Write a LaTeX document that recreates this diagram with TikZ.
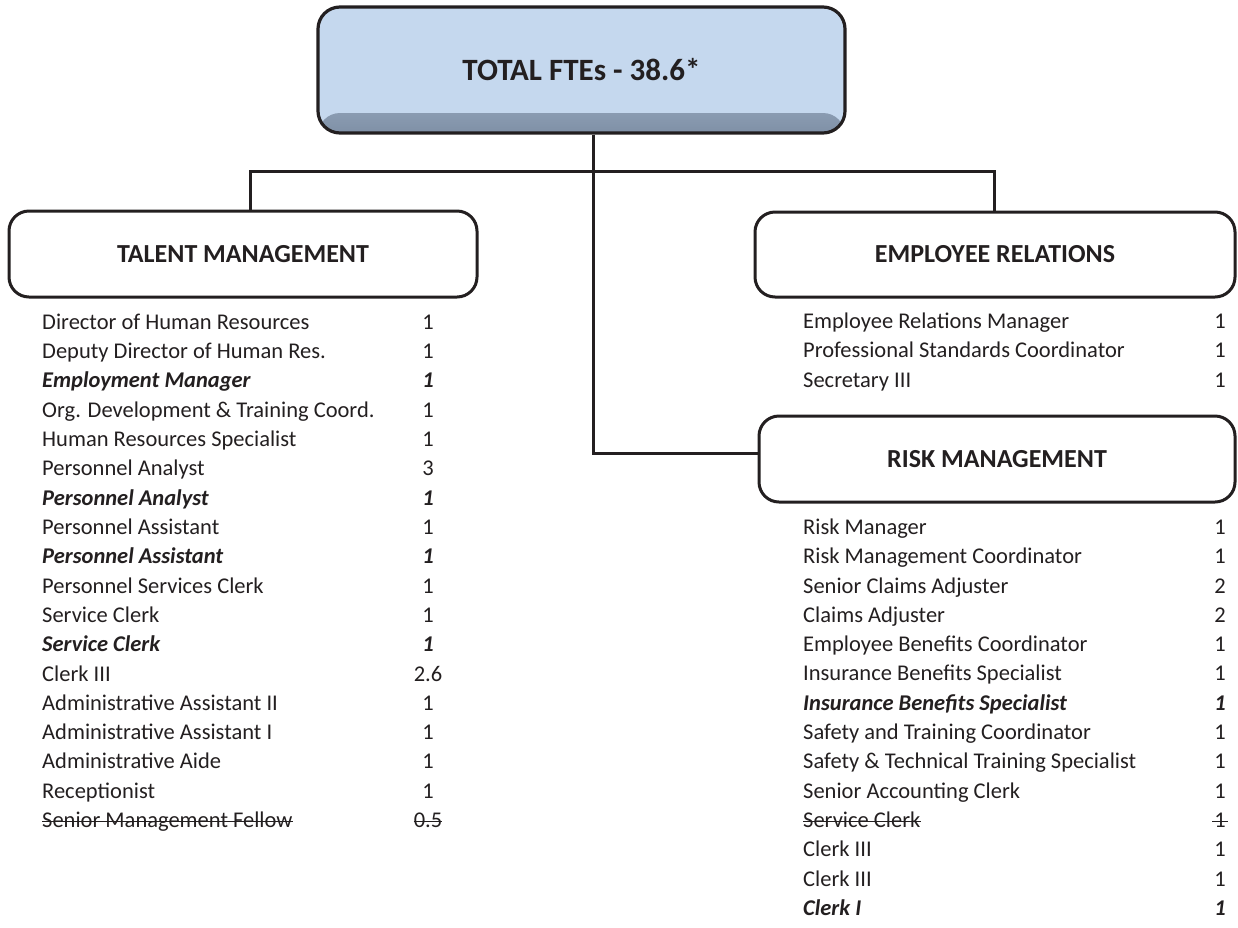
\documentclass[tikz,border=0pt]{standalone}
\usepackage{fontspec}
\setmainfont{Carlito}
\definecolor{ink}{HTML}{231F20}
\definecolor{topfill}{HTML}{C5D8EE}
\definecolor{topshade}{HTML}{7F90A6}
\tikzset{
  conn/.style={draw=ink, line width=3pt},
  box/.style={draw=ink, line width=3pt, rounded corners=20pt, fill=white, text=ink,
    font=\fontsize{26}{30}\selectfont\bfseries},
  titlebox/.style={draw=ink, line width=3.2pt, rounded corners=22pt, fill=topfill, text=ink,
    font=\fontsize{31}{35}\selectfont\bfseries,
    path picture={\shade[top color=topfill, bottom color=topshade]
      ([yshift=20pt]path picture bounding box.south west) rectangle (path picture bounding box.south east);}},
  item/.style={anchor=mid west, inner sep=0pt, text=ink, font=\fontsize{22.5}{27}\selectfont},
  num/.style={anchor=mid, inner sep=0pt, text=ink, font=\fontsize{22.5}{27}\selectfont},
  plain/.style={},
  bi/.style={font=\fontsize{22.5}{27}\selectfont\bfseries\itshape},
  strike/.style={draw=ink, line width=1.3pt}
}
\begin{document}
\begin{tikzpicture}[x=1pt,y=-1pt]
\useasboundingbox (0,0) rectangle (1238,927);
% boxes
\node[titlebox, minimum width=527pt, minimum height=126pt] (top) at (581.5,70) {TOTAL FTEs - 38.6*};
\node[box, minimum width=468pt, minimum height=86pt] (tm) at (243,254) {TALENT MANAGEMENT};
\node[box, minimum width=480pt, minimum height=85pt] (er) at (995,254.5) {EMPLOYEE RELATIONS};
\node[box, minimum width=476pt, minimum height=86pt] (rm) at (997,459) {RISK MANAGEMENT};
% connectors
\coordinate (j) at (593,171);
\coordinate (lc) at (250,171);
\coordinate (rc) at (994,171);
\coordinate (rmj) at (593,453);
\draw[conn] (top.south -| j) -- (j);
\draw[conn] (tm.north -| lc) -- (lc) -- (rc) -- (er.north -| rc);
\draw[conn] (j) -- (rmj) -- (rmj -| rm.west);
% talent list
\foreach \t/\n/\s [count=\i from 0] in {
  Director of Human Resources/1/plain,
  Deputy Director of Human Res./1/plain,
  Employment Manager/1/bi,
  Org. Development \& Training Coord./1/plain,
  Human Resources Specialist/1/plain,
  Personnel Analyst/3/plain,
  Personnel Analyst/1/bi,
  Personnel Assistant/1/plain,
  Personnel Assistant/1/bi,
  Personnel Services Clerk/1/plain,
  Service Clerk/1/plain,
  Service Clerk/1/bi,
  Clerk III/2.6/plain,
  Administrative Assistant II/1/plain,
  Administrative Assistant I/1/plain,
  Administrative Aide/1/plain,
  Receptionist/1/plain,
  Senior Management Fellow/0.5/plain}{
  \node[item,\s] (tl\i) at (42,{327+29.3*\i}) {\t};
  \node[num,\s] (tn\i) at (428,{327+29.3*\i}) {\n};
}
\draw[strike] ([yshift=6pt]tl17.base west) -- ([yshift=6pt]tl17.base east);
\draw[strike] ([yshift=6pt]tn17.base west) -- ([yshift=6pt]tn17.base east);
% employee relations list
\foreach \t/\n/\s [count=\i from 0] in {
  Employee Relations Manager/1/plain,
  Professional Standards Coordinator/1/plain,
  Secretary III/1/plain}{
  \node[item,\s] (el\i) at (803,{326+29.5*\i}) {\t};
  \node[num,\s] (en\i) at (1220,{326+29.5*\i}) {\n};
}
% risk management list
\foreach \t/\n/\s [count=\i from 0] in {
  Risk Manager/1/plain,
  Risk Management Coordinator/1/plain,
  Senior Claims Adjuster/2/plain,
  Claims Adjuster/2/plain,
  Employee Benefits Coordinator/1/plain,
  Insurance Benefits Specialist/1/plain,
  Insurance Benefits Specialist/1/bi,
  Safety and Training Coordinator/1/plain,
  Safety \& Technical Training Specialist/1/plain,
  Senior Accounting Clerk/1/plain,
  Service Clerk/1/plain,
  Clerk III/1/plain,
  Clerk III/1/plain,
  Clerk I/1/bi}{
  \node[item,\s] (rl\i) at (803,{532+29.3*\i}) {\t};
  \node[num,\s] (rn\i) at (1220,{532+29.3*\i}) {\n};
}
\draw[strike] ([yshift=6pt]rl10.base west) -- ([yshift=6pt]rl10.base east);
\draw[strike] ([xshift=-2pt,yshift=6pt]rn10.base west) -- ([xshift=2pt,yshift=6pt]rn10.base east);
\end{tikzpicture}
\end{document}
